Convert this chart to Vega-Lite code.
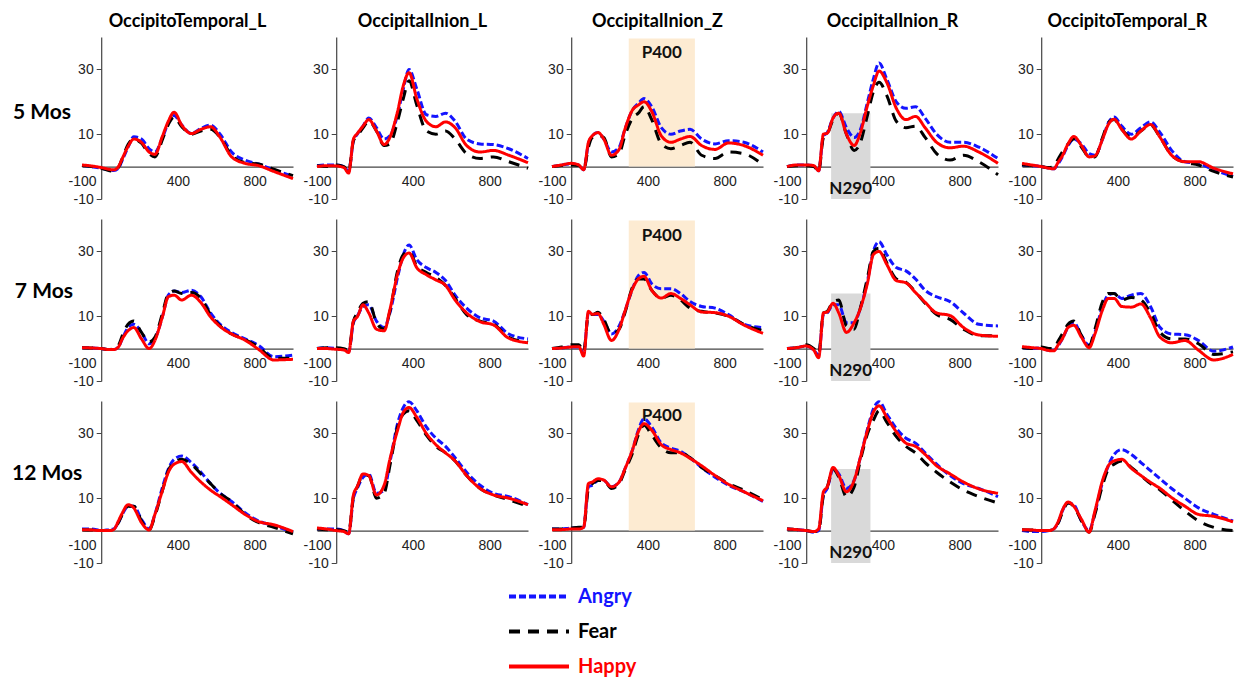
{
"$schema": "https://vega.github.io/schema/vega-lite/v6.json",
"background": "white",
"padding": {"left": 11, "top": 13, "right": 5, "bottom": 5},
"bounds": "flush",
"resolve": {"axis": {"x": "independent", "y": "independent"}},
"data": {"values": [
{"m":"5 Mos","c":"OccipitoTemporal_L","t":-100,"A":0.3,"F":0.3,"H":0.5},
{"m":"5 Mos","c":"OccipitoTemporal_L","t":-50,"A":0,"F":0,"H":0.2},
{"m":"5 Mos","c":"OccipitoTemporal_L","t":0,"A":-0.5,"F":-0.5,"H":-0.3},
{"m":"5 Mos","c":"OccipitoTemporal_L","t":40,"A":-1,"F":-1.2,"H":-0.8},
{"m":"5 Mos","c":"OccipitoTemporal_L","t":65,"A":-1.2,"F":-1.5,"H":-1},
{"m":"5 Mos","c":"OccipitoTemporal_L","t":90,"A":-0.5,"F":-0.3,"H":0},
{"m":"5 Mos","c":"OccipitoTemporal_L","t":110,"A":2,"F":2.5,"H":2.5},
{"m":"5 Mos","c":"OccipitoTemporal_L","t":140,"A":6,"F":6.8,"H":6.2},
{"m":"5 Mos","c":"OccipitoTemporal_L","t":170,"A":9.2,"F":8.5,"H":8.5},
{"m":"5 Mos","c":"OccipitoTemporal_L","t":210,"A":8.5,"F":7.2,"H":7.5},
{"m":"5 Mos","c":"OccipitoTemporal_L","t":250,"A":5.5,"F":4,"H":4.5},
{"m":"5 Mos","c":"OccipitoTemporal_L","t":280,"A":4.5,"F":3,"H":3.8},
{"m":"5 Mos","c":"OccipitoTemporal_L","t":320,"A":9,"F":8.5,"H":9.5},
{"m":"5 Mos","c":"OccipitoTemporal_L","t":350,"A":13.5,"F":13,"H":14},
{"m":"5 Mos","c":"OccipitoTemporal_L","t":380,"A":15.8,"F":15.3,"H":16.8},
{"m":"5 Mos","c":"OccipitoTemporal_L","t":420,"A":12.8,"F":12.3,"H":12.8},
{"m":"5 Mos","c":"OccipitoTemporal_L","t":470,"A":10.2,"F":10,"H":10.2},
{"m":"5 Mos","c":"OccipitoTemporal_L","t":520,"A":11.8,"F":11,"H":11.5},
{"m":"5 Mos","c":"OccipitoTemporal_L","t":570,"A":12.8,"F":11.5,"H":12.3},
{"m":"5 Mos","c":"OccipitoTemporal_L","t":620,"A":10,"F":9,"H":9},
{"m":"5 Mos","c":"OccipitoTemporal_L","t":680,"A":4.5,"F":3.5,"H":3},
{"m":"5 Mos","c":"OccipitoTemporal_L","t":750,"A":2,"F":1.2,"H":1},
{"m":"5 Mos","c":"OccipitoTemporal_L","t":820,"A":0.8,"F":0.8,"H":0.3},
{"m":"5 Mos","c":"OccipitoTemporal_L","t":900,"A":-1,"F":-0.8,"H":-1.5},
{"m":"5 Mos","c":"OccipitoTemporal_L","t":1000,"A":-3,"F":-2.8,"H":-3.7},

{"m":"5 Mos","c":"OccipitalInion_L","t":-100,"A":0.3,"F":0.3,"H":0},
{"m":"5 Mos","c":"OccipitalInion_L","t":-50,"A":0.5,"F":0,"H":0.3},
{"m":"5 Mos","c":"OccipitalInion_L","t":0,"A":0.5,"F":0.5,"H":0.2},
{"m":"5 Mos","c":"OccipitalInion_L","t":40,"A":0,"F":0,"H":-0.3},
{"m":"5 Mos","c":"OccipitalInion_L","t":65,"A":-1.5,"F":-1.5,"H":-2},
{"m":"5 Mos","c":"OccipitalInion_L","t":90,"A":8,"F":8,"H":8.5},
{"m":"5 Mos","c":"OccipitalInion_L","t":110,"A":10,"F":9.5,"H":10.2},
{"m":"5 Mos","c":"OccipitalInion_L","t":140,"A":12.5,"F":12,"H":12.5},
{"m":"5 Mos","c":"OccipitalInion_L","t":170,"A":15,"F":14,"H":14.5},
{"m":"5 Mos","c":"OccipitalInion_L","t":210,"A":12,"F":11,"H":11},
{"m":"5 Mos","c":"OccipitalInion_L","t":250,"A":8.5,"F":6.5,"H":6.8},
{"m":"5 Mos","c":"OccipitalInion_L","t":280,"A":9.5,"F":7,"H":9},
{"m":"5 Mos","c":"OccipitalInion_L","t":320,"A":16,"F":14,"H":17},
{"m":"5 Mos","c":"OccipitalInion_L","t":350,"A":24,"F":21,"H":25},
{"m":"5 Mos","c":"OccipitalInion_L","t":380,"A":30,"F":26.5,"H":29},
{"m":"5 Mos","c":"OccipitalInion_L","t":420,"A":24,"F":19,"H":21},
{"m":"5 Mos","c":"OccipitalInion_L","t":470,"A":16,"F":11,"H":14},
{"m":"5 Mos","c":"OccipitalInion_L","t":520,"A":15.5,"F":10,"H":12.3},
{"m":"5 Mos","c":"OccipitalInion_L","t":570,"A":16.5,"F":11,"H":13.8},
{"m":"5 Mos","c":"OccipitalInion_L","t":620,"A":14,"F":8.5,"H":12},
{"m":"5 Mos","c":"OccipitalInion_L","t":680,"A":8.5,"F":4,"H":6.5},
{"m":"5 Mos","c":"OccipitalInion_L","t":750,"A":7,"F":2.5,"H":4.5},
{"m":"5 Mos","c":"OccipitalInion_L","t":820,"A":6.8,"F":3,"H":5},
{"m":"5 Mos","c":"OccipitalInion_L","t":900,"A":5.5,"F":1.5,"H":3.5},
{"m":"5 Mos","c":"OccipitalInion_L","t":1000,"A":2.5,"F":-0.5,"H":1.2},

{"m":"5 Mos","c":"OccipitalInion_Z","t":-100,"A":0,"F":0,"H":0},
{"m":"5 Mos","c":"OccipitalInion_Z","t":-50,"A":0.5,"F":0.3,"H":0.5},
{"m":"5 Mos","c":"OccipitalInion_Z","t":0,"A":0.8,"F":0.5,"H":1},
{"m":"5 Mos","c":"OccipitalInion_Z","t":40,"A":0.5,"F":0.3,"H":0.5},
{"m":"5 Mos","c":"OccipitalInion_Z","t":65,"A":-1,"F":-1,"H":-1},
{"m":"5 Mos","c":"OccipitalInion_Z","t":90,"A":7,"F":6,"H":7.5},
{"m":"5 Mos","c":"OccipitalInion_Z","t":110,"A":9.5,"F":9,"H":9.5},
{"m":"5 Mos","c":"OccipitalInion_Z","t":140,"A":10.5,"F":9.5,"H":10.5},
{"m":"5 Mos","c":"OccipitalInion_Z","t":170,"A":8.5,"F":9,"H":8.5},
{"m":"5 Mos","c":"OccipitalInion_Z","t":210,"A":4.5,"F":3,"H":3.5},
{"m":"5 Mos","c":"OccipitalInion_Z","t":250,"A":6,"F":4,"H":5.3},
{"m":"5 Mos","c":"OccipitalInion_Z","t":280,"A":11.5,"F":9.5,"H":11.5},
{"m":"5 Mos","c":"OccipitalInion_Z","t":320,"A":17.5,"F":15,"H":17.5},
{"m":"5 Mos","c":"OccipitalInion_Z","t":350,"A":19.5,"F":16.5,"H":19},
{"m":"5 Mos","c":"OccipitalInion_Z","t":380,"A":21,"F":18.5,"H":20},
{"m":"5 Mos","c":"OccipitalInion_Z","t":420,"A":18.5,"F":14.5,"H":17},
{"m":"5 Mos","c":"OccipitalInion_Z","t":470,"A":12,"F":7,"H":9.5},
{"m":"5 Mos","c":"OccipitalInion_Z","t":520,"A":10,"F":5.5,"H":7.5},
{"m":"5 Mos","c":"OccipitalInion_Z","t":570,"A":11,"F":6.5,"H":8.5},
{"m":"5 Mos","c":"OccipitalInion_Z","t":620,"A":11.5,"F":7.5,"H":9.3},
{"m":"5 Mos","c":"OccipitalInion_Z","t":680,"A":8.5,"F":3.5,"H":6.5},
{"m":"5 Mos","c":"OccipitalInion_Z","t":750,"A":7,"F":2.5,"H":5.3},
{"m":"5 Mos","c":"OccipitalInion_Z","t":820,"A":8,"F":4.5,"H":7.3},
{"m":"5 Mos","c":"OccipitalInion_Z","t":900,"A":7.5,"F":4,"H":6.5},
{"m":"5 Mos","c":"OccipitalInion_Z","t":1000,"A":4.5,"F":0.5,"H":3.5},

{"m":"5 Mos","c":"OccipitalInion_R","t":-100,"A":0,"F":0,"H":0},
{"m":"5 Mos","c":"OccipitalInion_R","t":-50,"A":0.5,"F":0.3,"H":0.5},
{"m":"5 Mos","c":"OccipitalInion_R","t":0,"A":0.5,"F":0.3,"H":0.5},
{"m":"5 Mos","c":"OccipitalInion_R","t":40,"A":0.3,"F":0,"H":0.3},
{"m":"5 Mos","c":"OccipitalInion_R","t":65,"A":-1.3,"F":-1.5,"H":-1.3},
{"m":"5 Mos","c":"OccipitalInion_R","t":90,"A":9.5,"F":9,"H":10},
{"m":"5 Mos","c":"OccipitalInion_R","t":110,"A":10.5,"F":10,"H":10.3},
{"m":"5 Mos","c":"OccipitalInion_R","t":140,"A":15,"F":14.5,"H":15},
{"m":"5 Mos","c":"OccipitalInion_R","t":170,"A":17,"F":16.5,"H":16.5},
{"m":"5 Mos","c":"OccipitalInion_R","t":210,"A":12,"F":10,"H":10},
{"m":"5 Mos","c":"OccipitalInion_R","t":250,"A":9,"F":5,"H":6.5},
{"m":"5 Mos","c":"OccipitalInion_R","t":280,"A":11,"F":7,"H":10},
{"m":"5 Mos","c":"OccipitalInion_R","t":320,"A":20,"F":16,"H":19},
{"m":"5 Mos","c":"OccipitalInion_R","t":350,"A":27,"F":23,"H":25},
{"m":"5 Mos","c":"OccipitalInion_R","t":380,"A":32,"F":26,"H":29.5},
{"m":"5 Mos","c":"OccipitalInion_R","t":420,"A":27,"F":22,"H":26},
{"m":"5 Mos","c":"OccipitalInion_R","t":470,"A":20,"F":14,"H":18},
{"m":"5 Mos","c":"OccipitalInion_R","t":520,"A":18,"F":12,"H":14.5},
{"m":"5 Mos","c":"OccipitalInion_R","t":570,"A":18.5,"F":12.5,"H":15.5},
{"m":"5 Mos","c":"OccipitalInion_R","t":620,"A":15,"F":9,"H":12},
{"m":"5 Mos","c":"OccipitalInion_R","t":680,"A":10,"F":4,"H":7.5},
{"m":"5 Mos","c":"OccipitalInion_R","t":750,"A":7.5,"F":2,"H":5.8},
{"m":"5 Mos","c":"OccipitalInion_R","t":820,"A":7.5,"F":3.5,"H":6.3},
{"m":"5 Mos","c":"OccipitalInion_R","t":900,"A":6,"F":1.5,"H":4.5},
{"m":"5 Mos","c":"OccipitalInion_R","t":1000,"A":2.5,"F":-2.5,"H":1},

{"m":"5 Mos","c":"OccipitoTemporal_R","t":-100,"A":0.5,"F":0.5,"H":1},
{"m":"5 Mos","c":"OccipitoTemporal_R","t":-50,"A":0.3,"F":0.3,"H":0.5},
{"m":"5 Mos","c":"OccipitoTemporal_R","t":0,"A":0,"F":0,"H":0},
{"m":"5 Mos","c":"OccipitoTemporal_R","t":40,"A":-0.5,"F":-0.3,"H":-0.5},
{"m":"5 Mos","c":"OccipitoTemporal_R","t":65,"A":-0.7,"F":0,"H":-0.7},
{"m":"5 Mos","c":"OccipitoTemporal_R","t":90,"A":1,"F":2.5,"H":1.5},
{"m":"5 Mos","c":"OccipitoTemporal_R","t":110,"A":3,"F":4.5,"H":3.3},
{"m":"5 Mos","c":"OccipitoTemporal_R","t":140,"A":6.5,"F":7,"H":7},
{"m":"5 Mos","c":"OccipitoTemporal_R","t":170,"A":8.5,"F":8.5,"H":9.3},
{"m":"5 Mos","c":"OccipitoTemporal_R","t":210,"A":7,"F":6,"H":6.5},
{"m":"5 Mos","c":"OccipitoTemporal_R","t":250,"A":4,"F":3,"H":3},
{"m":"5 Mos","c":"OccipitoTemporal_R","t":280,"A":3.5,"F":3,"H":3.3},
{"m":"5 Mos","c":"OccipitoTemporal_R","t":320,"A":8.5,"F":9,"H":8.5},
{"m":"5 Mos","c":"OccipitoTemporal_R","t":350,"A":13.5,"F":13.5,"H":13},
{"m":"5 Mos","c":"OccipitoTemporal_R","t":380,"A":15.3,"F":14.5,"H":14.6},
{"m":"5 Mos","c":"OccipitoTemporal_R","t":420,"A":12.5,"F":11.5,"H":11.5},
{"m":"5 Mos","c":"OccipitoTemporal_R","t":470,"A":10,"F":9,"H":8.5},
{"m":"5 Mos","c":"OccipitoTemporal_R","t":520,"A":12,"F":11,"H":11},
{"m":"5 Mos","c":"OccipitoTemporal_R","t":570,"A":13.8,"F":12.8,"H":13},
{"m":"5 Mos","c":"OccipitoTemporal_R","t":620,"A":10.5,"F":9,"H":9},
{"m":"5 Mos","c":"OccipitoTemporal_R","t":680,"A":5,"F":3.5,"H":3.5},
{"m":"5 Mos","c":"OccipitoTemporal_R","t":750,"A":1.5,"F":1.3,"H":1.5},
{"m":"5 Mos","c":"OccipitoTemporal_R","t":820,"A":1,"F":0.5,"H":1.5},
{"m":"5 Mos","c":"OccipitoTemporal_R","t":900,"A":-1,"F":-1.5,"H":-0.5},
{"m":"5 Mos","c":"OccipitoTemporal_R","t":1000,"A":-3,"F":-3.2,"H":-2.2},

{"m":"7 Mos","c":"OccipitoTemporal_L","t":-100,"A":0.3,"F":0.3,"H":0.3},
{"m":"7 Mos","c":"OccipitoTemporal_L","t":-50,"A":0.2,"F":0.2,"H":0.2},
{"m":"7 Mos","c":"OccipitoTemporal_L","t":0,"A":0,"F":0,"H":0},
{"m":"7 Mos","c":"OccipitoTemporal_L","t":40,"A":-0.3,"F":-0.3,"H":-0.3},
{"m":"7 Mos","c":"OccipitoTemporal_L","t":65,"A":-0.3,"F":0,"H":-0.3},
{"m":"7 Mos","c":"OccipitoTemporal_L","t":90,"A":0.5,"F":1,"H":0.5},
{"m":"7 Mos","c":"OccipitoTemporal_L","t":110,"A":3,"F":4,"H":3},
{"m":"7 Mos","c":"OccipitoTemporal_L","t":140,"A":6.5,"F":7.5,"H":5.5},
{"m":"7 Mos","c":"OccipitoTemporal_L","t":170,"A":7.5,"F":8.5,"H":6.5},
{"m":"7 Mos","c":"OccipitoTemporal_L","t":210,"A":5,"F":5,"H":3},
{"m":"7 Mos","c":"OccipitoTemporal_L","t":250,"A":1.5,"F":2,"H":0},
{"m":"7 Mos","c":"OccipitoTemporal_L","t":280,"A":3,"F":3.5,"H":2.5},
{"m":"7 Mos","c":"OccipitoTemporal_L","t":320,"A":10,"F":11,"H":10},
{"m":"7 Mos","c":"OccipitoTemporal_L","t":350,"A":16.5,"F":17,"H":16},
{"m":"7 Mos","c":"OccipitoTemporal_L","t":380,"A":17.8,"F":17.8,"H":16.5},
{"m":"7 Mos","c":"OccipitoTemporal_L","t":420,"A":17.3,"F":17,"H":15},
{"m":"7 Mos","c":"OccipitoTemporal_L","t":470,"A":18,"F":17.3,"H":16.5},
{"m":"7 Mos","c":"OccipitoTemporal_L","t":520,"A":16,"F":15.5,"H":14.2},
{"m":"7 Mos","c":"OccipitoTemporal_L","t":570,"A":11,"F":10.5,"H":9.8},
{"m":"7 Mos","c":"OccipitoTemporal_L","t":620,"A":7.5,"F":7,"H":6.8},
{"m":"7 Mos","c":"OccipitoTemporal_L","t":680,"A":5,"F":4.5,"H":4.5},
{"m":"7 Mos","c":"OccipitoTemporal_L","t":750,"A":3,"F":2.8,"H":2.6},
{"m":"7 Mos","c":"OccipitoTemporal_L","t":820,"A":1,"F":0.5,"H":-0.2},
{"m":"7 Mos","c":"OccipitoTemporal_L","t":900,"A":-2.5,"F":-3,"H":-3.5},
{"m":"7 Mos","c":"OccipitoTemporal_L","t":1000,"A":-2,"F":-3,"H":-3.3},

{"m":"7 Mos","c":"OccipitalInion_L","t":-100,"A":0,"F":0,"H":0},
{"m":"7 Mos","c":"OccipitalInion_L","t":-50,"A":0.3,"F":0.3,"H":0},
{"m":"7 Mos","c":"OccipitalInion_L","t":0,"A":0,"F":0.3,"H":-0.2},
{"m":"7 Mos","c":"OccipitalInion_L","t":40,"A":-0.4,"F":0,"H":-0.4},
{"m":"7 Mos","c":"OccipitalInion_L","t":65,"A":-1,"F":-0.5,"H":-1.2},
{"m":"7 Mos","c":"OccipitalInion_L","t":90,"A":8,"F":8.5,"H":8.5},
{"m":"7 Mos","c":"OccipitalInion_L","t":110,"A":10,"F":11,"H":9.8},
{"m":"7 Mos","c":"OccipitalInion_L","t":140,"A":13,"F":14,"H":13.5},
{"m":"7 Mos","c":"OccipitalInion_L","t":170,"A":13.5,"F":14.5,"H":11},
{"m":"7 Mos","c":"OccipitalInion_L","t":210,"A":8.5,"F":8,"H":6},
{"m":"7 Mos","c":"OccipitalInion_L","t":250,"A":6.5,"F":6,"H":5.5},
{"m":"7 Mos","c":"OccipitalInion_L","t":280,"A":11,"F":11.5,"H":12},
{"m":"7 Mos","c":"OccipitalInion_L","t":320,"A":22,"F":24,"H":23},
{"m":"7 Mos","c":"OccipitalInion_L","t":350,"A":29,"F":29,"H":28},
{"m":"7 Mos","c":"OccipitalInion_L","t":380,"A":32,"F":30,"H":29.5},
{"m":"7 Mos","c":"OccipitalInion_L","t":420,"A":27.5,"F":25.5,"H":25},
{"m":"7 Mos","c":"OccipitalInion_L","t":470,"A":25,"F":23.5,"H":22.8},
{"m":"7 Mos","c":"OccipitalInion_L","t":520,"A":23.5,"F":22,"H":21.2},
{"m":"7 Mos","c":"OccipitalInion_L","t":570,"A":21,"F":19.5,"H":19.5},
{"m":"7 Mos","c":"OccipitalInion_L","t":620,"A":16.5,"F":15.5,"H":15},
{"m":"7 Mos","c":"OccipitalInion_L","t":680,"A":12.5,"F":10.5,"H":11},
{"m":"7 Mos","c":"OccipitalInion_L","t":750,"A":9.5,"F":8.5,"H":8.3},
{"m":"7 Mos","c":"OccipitalInion_L","t":820,"A":8.5,"F":7.5,"H":7.3},
{"m":"7 Mos","c":"OccipitalInion_L","t":900,"A":4.5,"F":3.5,"H":3.2},
{"m":"7 Mos","c":"OccipitalInion_L","t":1000,"A":3,"F":2,"H":1.8},

{"m":"7 Mos","c":"OccipitalInion_Z","t":-100,"A":0,"F":0,"H":0},
{"m":"7 Mos","c":"OccipitalInion_Z","t":-50,"A":0.2,"F":0.5,"H":0.2},
{"m":"7 Mos","c":"OccipitalInion_Z","t":0,"A":0.5,"F":1.2,"H":0.5},
{"m":"7 Mos","c":"OccipitalInion_Z","t":40,"A":0.5,"F":1.2,"H":0.6},
{"m":"7 Mos","c":"OccipitalInion_Z","t":65,"A":-1.5,"F":-1,"H":-2.3},
{"m":"7 Mos","c":"OccipitalInion_Z","t":90,"A":11,"F":10.5,"H":11.5},
{"m":"7 Mos","c":"OccipitalInion_Z","t":110,"A":10.5,"F":10.5,"H":10.6},
{"m":"7 Mos","c":"OccipitalInion_Z","t":140,"A":10.5,"F":11.2,"H":10.8},
{"m":"7 Mos","c":"OccipitalInion_Z","t":170,"A":8.5,"F":9,"H":7.5},
{"m":"7 Mos","c":"OccipitalInion_Z","t":210,"A":4.5,"F":4.5,"H":2.5},
{"m":"7 Mos","c":"OccipitalInion_Z","t":250,"A":7,"F":6,"H":6},
{"m":"7 Mos","c":"OccipitalInion_Z","t":280,"A":11.5,"F":11,"H":11.5},
{"m":"7 Mos","c":"OccipitalInion_Z","t":320,"A":18.5,"F":19,"H":18.5},
{"m":"7 Mos","c":"OccipitalInion_Z","t":350,"A":22.5,"F":21.5,"H":21.5},
{"m":"7 Mos","c":"OccipitalInion_Z","t":380,"A":23.5,"F":21.5,"H":22.3},
{"m":"7 Mos","c":"OccipitalInion_Z","t":420,"A":20,"F":18,"H":18},
{"m":"7 Mos","c":"OccipitalInion_Z","t":470,"A":18.5,"F":15.5,"H":15.6},
{"m":"7 Mos","c":"OccipitalInion_Z","t":520,"A":18.5,"F":16.5,"H":17},
{"m":"7 Mos","c":"OccipitalInion_Z","t":570,"A":17,"F":15,"H":15.5},
{"m":"7 Mos","c":"OccipitalInion_Z","t":620,"A":14.5,"F":12.5,"H":13.5},
{"m":"7 Mos","c":"OccipitalInion_Z","t":680,"A":13,"F":11.5,"H":11.3},
{"m":"7 Mos","c":"OccipitalInion_Z","t":750,"A":12.5,"F":11,"H":11.1},
{"m":"7 Mos","c":"OccipitalInion_Z","t":820,"A":10.5,"F":10,"H":10},
{"m":"7 Mos","c":"OccipitalInion_Z","t":900,"A":7.5,"F":7.5,"H":7.3},
{"m":"7 Mos","c":"OccipitalInion_Z","t":1000,"A":6.5,"F":5.5,"H":4.7},

{"m":"7 Mos","c":"OccipitalInion_R","t":-100,"A":0,"F":0,"H":0},
{"m":"7 Mos","c":"OccipitalInion_R","t":-50,"A":0.3,"F":0.3,"H":0.3},
{"m":"7 Mos","c":"OccipitalInion_R","t":0,"A":0.8,"F":1.2,"H":0.8},
{"m":"7 Mos","c":"OccipitalInion_R","t":40,"A":-0.5,"F":0,"H":-0.5},
{"m":"7 Mos","c":"OccipitalInion_R","t":65,"A":-2,"F":-1.5,"H":-2.8},
{"m":"7 Mos","c":"OccipitalInion_R","t":90,"A":10.5,"F":11,"H":11},
{"m":"7 Mos","c":"OccipitalInion_R","t":110,"A":11,"F":11.5,"H":11.3},
{"m":"7 Mos","c":"OccipitalInion_R","t":140,"A":13.5,"F":14.5,"H":14},
{"m":"7 Mos","c":"OccipitalInion_R","t":170,"A":13.5,"F":15,"H":11},
{"m":"7 Mos","c":"OccipitalInion_R","t":210,"A":8,"F":7,"H":5},
{"m":"7 Mos","c":"OccipitalInion_R","t":250,"A":8,"F":6,"H":8},
{"m":"7 Mos","c":"OccipitalInion_R","t":280,"A":12,"F":12,"H":12},
{"m":"7 Mos","c":"OccipitalInion_R","t":320,"A":21,"F":22,"H":20.4},
{"m":"7 Mos","c":"OccipitalInion_R","t":350,"A":30,"F":30,"H":29},
{"m":"7 Mos","c":"OccipitalInion_R","t":380,"A":33,"F":31,"H":30},
{"m":"7 Mos","c":"OccipitalInion_R","t":420,"A":29,"F":26.5,"H":26},
{"m":"7 Mos","c":"OccipitalInion_R","t":470,"A":25,"F":21.5,"H":21},
{"m":"7 Mos","c":"OccipitalInion_R","t":520,"A":24,"F":20.5,"H":20.3},
{"m":"7 Mos","c":"OccipitalInion_R","t":570,"A":21.5,"F":17.5,"H":17.3},
{"m":"7 Mos","c":"OccipitalInion_R","t":620,"A":18,"F":14,"H":14.3},
{"m":"7 Mos","c":"OccipitalInion_R","t":680,"A":16,"F":10.5,"H":11},
{"m":"7 Mos","c":"OccipitalInion_R","t":750,"A":14.5,"F":9,"H":10.2},
{"m":"7 Mos","c":"OccipitalInion_R","t":820,"A":11,"F":6,"H":6.5},
{"m":"7 Mos","c":"OccipitalInion_R","t":900,"A":7.5,"F":4,"H":4.2},
{"m":"7 Mos","c":"OccipitalInion_R","t":1000,"A":7,"F":4,"H":3.8},

{"m":"7 Mos","c":"OccipitoTemporal_R","t":-100,"A":0.3,"F":0.3,"H":0.6},
{"m":"7 Mos","c":"OccipitoTemporal_R","t":-50,"A":0,"F":0,"H":0.3},
{"m":"7 Mos","c":"OccipitoTemporal_R","t":0,"A":0.2,"F":0.5,"H":0},
{"m":"7 Mos","c":"OccipitoTemporal_R","t":40,"A":-0.5,"F":0,"H":-0.6},
{"m":"7 Mos","c":"OccipitoTemporal_R","t":65,"A":-0.5,"F":0,"H":-0.7},
{"m":"7 Mos","c":"OccipitoTemporal_R","t":90,"A":1,"F":2.5,"H":1.3},
{"m":"7 Mos","c":"OccipitoTemporal_R","t":110,"A":3,"F":4.5,"H":3},
{"m":"7 Mos","c":"OccipitoTemporal_R","t":140,"A":6.5,"F":7.5,"H":6.5},
{"m":"7 Mos","c":"OccipitoTemporal_R","t":170,"A":8,"F":8.5,"H":7.2},
{"m":"7 Mos","c":"OccipitoTemporal_R","t":210,"A":4,"F":4,"H":3.5},
{"m":"7 Mos","c":"OccipitoTemporal_R","t":250,"A":1,"F":1,"H":0.3},
{"m":"7 Mos","c":"OccipitoTemporal_R","t":280,"A":5,"F":6,"H":4.5},
{"m":"7 Mos","c":"OccipitoTemporal_R","t":320,"A":13,"F":14.5,"H":12},
{"m":"7 Mos","c":"OccipitoTemporal_R","t":350,"A":16.5,"F":17,"H":15.5},
{"m":"7 Mos","c":"OccipitoTemporal_R","t":380,"A":17,"F":17,"H":15.5},
{"m":"7 Mos","c":"OccipitoTemporal_R","t":420,"A":15.5,"F":15,"H":13},
{"m":"7 Mos","c":"OccipitoTemporal_R","t":470,"A":16.5,"F":15.8,"H":12.8},
{"m":"7 Mos","c":"OccipitoTemporal_R","t":520,"A":17,"F":15,"H":13.8},
{"m":"7 Mos","c":"OccipitoTemporal_R","t":570,"A":13,"F":11,"H":9.5},
{"m":"7 Mos","c":"OccipitoTemporal_R","t":620,"A":6.5,"F":5,"H":3.5},
{"m":"7 Mos","c":"OccipitoTemporal_R","t":680,"A":4.5,"F":3,"H":1.8},
{"m":"7 Mos","c":"OccipitoTemporal_R","t":750,"A":4.3,"F":3,"H":2.5},
{"m":"7 Mos","c":"OccipitoTemporal_R","t":820,"A":2.5,"F":1.5,"H":-0.5},
{"m":"7 Mos","c":"OccipitoTemporal_R","t":900,"A":-0.8,"F":-1.8,"H":-3.5},
{"m":"7 Mos","c":"OccipitoTemporal_R","t":1000,"A":0.5,"F":-1,"H":-1.8},

{"m":"12 Mos","c":"OccipitoTemporal_L","t":-100,"A":0.5,"F":0.3,"H":0.3},
{"m":"12 Mos","c":"OccipitoTemporal_L","t":-50,"A":0.5,"F":0.2,"H":0.2},
{"m":"12 Mos","c":"OccipitoTemporal_L","t":0,"A":0,"F":0,"H":0},
{"m":"12 Mos","c":"OccipitoTemporal_L","t":40,"A":0.3,"F":0,"H":0},
{"m":"12 Mos","c":"OccipitoTemporal_L","t":65,"A":0.5,"F":0.3,"H":0.3},
{"m":"12 Mos","c":"OccipitoTemporal_L","t":90,"A":2.5,"F":2.5,"H":3},
{"m":"12 Mos","c":"OccipitoTemporal_L","t":110,"A":5,"F":5,"H":5.4},
{"m":"12 Mos","c":"OccipitoTemporal_L","t":140,"A":7.5,"F":7.5,"H":8},
{"m":"12 Mos","c":"OccipitoTemporal_L","t":170,"A":7.5,"F":7.5,"H":7},
{"m":"12 Mos","c":"OccipitoTemporal_L","t":210,"A":3.5,"F":3,"H":2.5},
{"m":"12 Mos","c":"OccipitoTemporal_L","t":250,"A":0.5,"F":0.2,"H":0.2},
{"m":"12 Mos","c":"OccipitoTemporal_L","t":280,"A":5,"F":4.5,"H":5},
{"m":"12 Mos","c":"OccipitoTemporal_L","t":320,"A":13.5,"F":12.5,"H":12.5},
{"m":"12 Mos","c":"OccipitoTemporal_L","t":350,"A":19,"F":18.5,"H":18},
{"m":"12 Mos","c":"OccipitoTemporal_L","t":380,"A":22,"F":21,"H":20.5},
{"m":"12 Mos","c":"OccipitoTemporal_L","t":420,"A":23,"F":22,"H":21.3},
{"m":"12 Mos","c":"OccipitoTemporal_L","t":470,"A":21,"F":20.5,"H":18},
{"m":"12 Mos","c":"OccipitoTemporal_L","t":520,"A":18,"F":17.5,"H":15},
{"m":"12 Mos","c":"OccipitoTemporal_L","t":570,"A":14.5,"F":14.5,"H":12.5},
{"m":"12 Mos","c":"OccipitoTemporal_L","t":620,"A":11.5,"F":11.5,"H":10.5},
{"m":"12 Mos","c":"OccipitoTemporal_L","t":680,"A":9,"F":9,"H":8},
{"m":"12 Mos","c":"OccipitoTemporal_L","t":750,"A":5.5,"F":5,"H":5},
{"m":"12 Mos","c":"OccipitoTemporal_L","t":820,"A":3,"F":2.5,"H":2.8},
{"m":"12 Mos","c":"OccipitoTemporal_L","t":900,"A":1.5,"F":1,"H":1.8},
{"m":"12 Mos","c":"OccipitoTemporal_L","t":1000,"A":-0.5,"F":-1,"H":-0.3},

{"m":"12 Mos","c":"OccipitalInion_L","t":-100,"A":0.5,"F":0.5,"H":0.8},
{"m":"12 Mos","c":"OccipitalInion_L","t":-50,"A":0.5,"F":0.3,"H":0.5},
{"m":"12 Mos","c":"OccipitalInion_L","t":0,"A":0.5,"F":0.3,"H":0},
{"m":"12 Mos","c":"OccipitalInion_L","t":40,"A":0,"F":0,"H":-0.3},
{"m":"12 Mos","c":"OccipitalInion_L","t":65,"A":-1,"F":-0.5,"H":-1},
{"m":"12 Mos","c":"OccipitalInion_L","t":90,"A":10,"F":10.5,"H":11},
{"m":"12 Mos","c":"OccipitalInion_L","t":110,"A":13,"F":13.5,"H":13.6},
{"m":"12 Mos","c":"OccipitalInion_L","t":140,"A":16.5,"F":17,"H":17.5},
{"m":"12 Mos","c":"OccipitalInion_L","t":170,"A":17.5,"F":17,"H":17},
{"m":"12 Mos","c":"OccipitalInion_L","t":210,"A":11.5,"F":10,"H":11},
{"m":"12 Mos","c":"OccipitalInion_L","t":250,"A":12.5,"F":11.5,"H":14},
{"m":"12 Mos","c":"OccipitalInion_L","t":280,"A":21,"F":20,"H":22},
{"m":"12 Mos","c":"OccipitalInion_L","t":320,"A":33,"F":32,"H":31},
{"m":"12 Mos","c":"OccipitalInion_L","t":350,"A":38,"F":36,"H":36.5},
{"m":"12 Mos","c":"OccipitalInion_L","t":380,"A":39.8,"F":37,"H":38},
{"m":"12 Mos","c":"OccipitalInion_L","t":420,"A":37,"F":34,"H":35},
{"m":"12 Mos","c":"OccipitalInion_L","t":470,"A":32,"F":29.5,"H":30},
{"m":"12 Mos","c":"OccipitalInion_L","t":520,"A":28.5,"F":26,"H":26.5},
{"m":"12 Mos","c":"OccipitalInion_L","t":570,"A":26,"F":24,"H":24},
{"m":"12 Mos","c":"OccipitalInion_L","t":620,"A":22.5,"F":21.5,"H":21.5},
{"m":"12 Mos","c":"OccipitalInion_L","t":680,"A":18,"F":17,"H":17},
{"m":"12 Mos","c":"OccipitalInion_L","t":750,"A":14,"F":13,"H":13},
{"m":"12 Mos","c":"OccipitalInion_L","t":820,"A":11.5,"F":11,"H":11},
{"m":"12 Mos","c":"OccipitalInion_L","t":900,"A":10.5,"F":9.5,"H":10},
{"m":"12 Mos","c":"OccipitalInion_L","t":1000,"A":8,"F":7.5,"H":8},

{"m":"12 Mos","c":"OccipitalInion_Z","t":-100,"A":0.5,"F":0.5,"H":0.3},
{"m":"12 Mos","c":"OccipitalInion_Z","t":-50,"A":0.5,"F":0.5,"H":0.3},
{"m":"12 Mos","c":"OccipitalInion_Z","t":0,"A":0.8,"F":0.8,"H":0.5},
{"m":"12 Mos","c":"OccipitalInion_Z","t":40,"A":0.8,"F":1,"H":0.5},
{"m":"12 Mos","c":"OccipitalInion_Z","t":65,"A":1,"F":1,"H":1},
{"m":"12 Mos","c":"OccipitalInion_Z","t":90,"A":13.5,"F":13,"H":14.5},
{"m":"12 Mos","c":"OccipitalInion_Z","t":110,"A":14,"F":14.5,"H":15},
{"m":"12 Mos","c":"OccipitalInion_Z","t":140,"A":15.5,"F":15.5,"H":16},
{"m":"12 Mos","c":"OccipitalInion_Z","t":170,"A":15.5,"F":15.5,"H":15.6},
{"m":"12 Mos","c":"OccipitalInion_Z","t":210,"A":13.5,"F":13,"H":13.5},
{"m":"12 Mos","c":"OccipitalInion_Z","t":250,"A":15,"F":14.5,"H":15},
{"m":"12 Mos","c":"OccipitalInion_Z","t":280,"A":19,"F":18.5,"H":19},
{"m":"12 Mos","c":"OccipitalInion_Z","t":320,"A":25,"F":24,"H":25},
{"m":"12 Mos","c":"OccipitalInion_Z","t":350,"A":31,"F":29.5,"H":30.5},
{"m":"12 Mos","c":"OccipitalInion_Z","t":380,"A":34.5,"F":32.5,"H":33},
{"m":"12 Mos","c":"OccipitalInion_Z","t":420,"A":32,"F":29.5,"H":31},
{"m":"12 Mos","c":"OccipitalInion_Z","t":470,"A":27,"F":25.5,"H":26.5},
{"m":"12 Mos","c":"OccipitalInion_Z","t":520,"A":25.5,"F":24,"H":25},
{"m":"12 Mos","c":"OccipitalInion_Z","t":570,"A":24.5,"F":24,"H":24},
{"m":"12 Mos","c":"OccipitalInion_Z","t":620,"A":22.5,"F":22.5,"H":22.3},
{"m":"12 Mos","c":"OccipitalInion_Z","t":680,"A":19.5,"F":19.5,"H":20},
{"m":"12 Mos","c":"OccipitalInion_Z","t":750,"A":16.5,"F":17,"H":17},
{"m":"12 Mos","c":"OccipitalInion_Z","t":820,"A":14,"F":14.5,"H":14.3},
{"m":"12 Mos","c":"OccipitalInion_Z","t":900,"A":12,"F":12.5,"H":12},
{"m":"12 Mos","c":"OccipitalInion_Z","t":1000,"A":9,"F":9.5,"H":9.2},

{"m":"12 Mos","c":"OccipitalInion_R","t":-100,"A":0.5,"F":0.5,"H":0.5},
{"m":"12 Mos","c":"OccipitalInion_R","t":-50,"A":0.3,"F":0.3,"H":0.3},
{"m":"12 Mos","c":"OccipitalInion_R","t":0,"A":0,"F":0,"H":0},
{"m":"12 Mos","c":"OccipitalInion_R","t":40,"A":-0.5,"F":-0.3,"H":-0.3},
{"m":"12 Mos","c":"OccipitalInion_R","t":65,"A":0,"F":0,"H":0.5},
{"m":"12 Mos","c":"OccipitalInion_R","t":90,"A":11,"F":11,"H":12},
{"m":"12 Mos","c":"OccipitalInion_R","t":110,"A":13,"F":13.5,"H":13.5},
{"m":"12 Mos","c":"OccipitalInion_R","t":140,"A":19,"F":19,"H":19.5},
{"m":"12 Mos","c":"OccipitalInion_R","t":170,"A":17.5,"F":16.5,"H":17},
{"m":"12 Mos","c":"OccipitalInion_R","t":210,"A":13,"F":10.5,"H":12},
{"m":"12 Mos","c":"OccipitalInion_R","t":250,"A":15.5,"F":13.5,"H":15.5},
{"m":"12 Mos","c":"OccipitalInion_R","t":280,"A":22,"F":21,"H":22},
{"m":"12 Mos","c":"OccipitalInion_R","t":320,"A":31.5,"F":30,"H":31},
{"m":"12 Mos","c":"OccipitalInion_R","t":350,"A":37.5,"F":34,"H":36.5},
{"m":"12 Mos","c":"OccipitalInion_R","t":380,"A":39.8,"F":37,"H":38.5},
{"m":"12 Mos","c":"OccipitalInion_R","t":420,"A":36,"F":33.5,"H":35},
{"m":"12 Mos","c":"OccipitalInion_R","t":470,"A":31.5,"F":29,"H":30.5},
{"m":"12 Mos","c":"OccipitalInion_R","t":520,"A":28.5,"F":26,"H":27},
{"m":"12 Mos","c":"OccipitalInion_R","t":570,"A":27,"F":24,"H":26},
{"m":"12 Mos","c":"OccipitalInion_R","t":620,"A":24,"F":21,"H":23.5},
{"m":"12 Mos","c":"OccipitalInion_R","t":680,"A":20.5,"F":18,"H":20},
{"m":"12 Mos","c":"OccipitalInion_R","t":750,"A":17,"F":15,"H":17.5},
{"m":"12 Mos","c":"OccipitalInion_R","t":820,"A":14.5,"F":12.5,"H":15},
{"m":"12 Mos","c":"OccipitalInion_R","t":900,"A":13,"F":10.5,"H":12.9},
{"m":"12 Mos","c":"OccipitalInion_R","t":1000,"A":10.5,"F":8.5,"H":11.5},

{"m":"12 Mos","c":"OccipitoTemporal_R","t":-100,"A":0,"F":0.3,"H":0.3},
{"m":"12 Mos","c":"OccipitoTemporal_R","t":-50,"A":-0.3,"F":0.2,"H":0.2},
{"m":"12 Mos","c":"OccipitoTemporal_R","t":0,"A":-0.3,"F":0,"H":0},
{"m":"12 Mos","c":"OccipitoTemporal_R","t":40,"A":0,"F":0,"H":0},
{"m":"12 Mos","c":"OccipitoTemporal_R","t":65,"A":0.5,"F":0.5,"H":0.5},
{"m":"12 Mos","c":"OccipitoTemporal_R","t":90,"A":2.5,"F":2.5,"H":3},
{"m":"12 Mos","c":"OccipitoTemporal_R","t":110,"A":6,"F":5.5,"H":6.2},
{"m":"12 Mos","c":"OccipitoTemporal_R","t":140,"A":8.5,"F":8.5,"H":8.8},
{"m":"12 Mos","c":"OccipitoTemporal_R","t":170,"A":8,"F":7.5,"H":7.5},
{"m":"12 Mos","c":"OccipitoTemporal_R","t":210,"A":3,"F":3,"H":3.5},
{"m":"12 Mos","c":"OccipitoTemporal_R","t":250,"A":0,"F":-0.5,"H":-0.5},
{"m":"12 Mos","c":"OccipitoTemporal_R","t":280,"A":5.5,"F":5,"H":6},
{"m":"12 Mos","c":"OccipitoTemporal_R","t":320,"A":15,"F":14,"H":15.5},
{"m":"12 Mos","c":"OccipitoTemporal_R","t":350,"A":20,"F":19,"H":20},
{"m":"12 Mos","c":"OccipitoTemporal_R","t":380,"A":23.5,"F":20.5,"H":21.5},
{"m":"12 Mos","c":"OccipitoTemporal_R","t":420,"A":25,"F":21.5,"H":22},
{"m":"12 Mos","c":"OccipitoTemporal_R","t":470,"A":23.5,"F":19.5,"H":19.2},
{"m":"12 Mos","c":"OccipitoTemporal_R","t":520,"A":21,"F":17,"H":17},
{"m":"12 Mos","c":"OccipitoTemporal_R","t":570,"A":18.5,"F":14.5,"H":14.9},
{"m":"12 Mos","c":"OccipitoTemporal_R","t":620,"A":16,"F":12.5,"H":13},
{"m":"12 Mos","c":"OccipitoTemporal_R","t":680,"A":13,"F":9.5,"H":10.2},
{"m":"12 Mos","c":"OccipitoTemporal_R","t":750,"A":10,"F":6,"H":7.5},
{"m":"12 Mos","c":"OccipitoTemporal_R","t":820,"A":7,"F":3,"H":5},
{"m":"12 Mos","c":"OccipitoTemporal_R","t":900,"A":5,"F":1,"H":4.4},
{"m":"12 Mos","c":"OccipitoTemporal_R","t":1000,"A":3,"F":0,"H":2.7},

{"kind":"box","m":"5 Mos","c":"OccipitalInion_Z","label":"P400","t":300,"t2":645,"v":0,"v2":39.5},
{"kind":"box","m":"7 Mos","c":"OccipitalInion_Z","label":"P400","t":300,"t2":645,"v":0,"v2":39.5},
{"kind":"box","m":"12 Mos","c":"OccipitalInion_Z","label":"P400","t":300,"t2":645,"v":0,"v2":39.5},
{"kind":"box","m":"5 Mos","c":"OccipitalInion_R","label":"N290","t":130,"t2":335,"v":-10,"v2":16.5},
{"kind":"box","m":"7 Mos","c":"OccipitalInion_R","label":"N290","t":130,"t2":335,"v":-10,"v2":17},
{"kind":"box","m":"12 Mos","c":"OccipitalInion_R","label":"N290","t":130,"t2":335,"v":-10,"v2":19},
{"kind":"label","m":"5 Mos","c":"OccipitalInion_Z","label":"P400","t":472,"v":35},
{"kind":"label","m":"7 Mos","c":"OccipitalInion_Z","label":"P400","t":472,"v":34.8},
{"kind":"label","m":"12 Mos","c":"OccipitalInion_Z","label":"P400","t":472,"v":35.3},
{"kind":"label","m":"5 Mos","c":"OccipitalInion_R","label":"N290","t":232,"v":-7},
{"kind":"label","m":"7 Mos","c":"OccipitalInion_R","label":"N290","t":232,"v":-7},
{"kind":"label","m":"12 Mos","c":"OccipitalInion_R","label":"N290","t":232,"v":-7},
{"kind":"rowlabel","m":"5 Mos","c":"OccipitoTemporal_L","label":"5 Mos","t":-460,"v":16.5},
{"kind":"rowlabel","m":"7 Mos","c":"OccipitoTemporal_L","label":"7 Mos","t":-450,"v":17.5},
{"kind":"rowlabel","m":"12 Mos","c":"OccipitoTemporal_L","label":"12 Mos","t":-465,"v":17.5}
]},
"facet": {
  "row": {"field": "m", "type": "nominal", "sort": ["5 Mos", "7 Mos", "12 Mos"], "header": {"title": null, "labels": false}},
  "column": {"field": "c", "type": "nominal", "sort": ["OccipitoTemporal_L", "OccipitalInion_L", "OccipitalInion_Z", "OccipitalInion_R", "OccipitoTemporal_R"],
    "header": {"title": null, "labelFont": "Lato", "labelFontSize": 18, "labelFontWeight": "bold", "labelColor": "#000000", "labelPadding": 6}}
},
"spacing": {"row": 20, "column": 24},
"spec": {
  "width": 211,
  "height": 162,
  "encoding": {
    "x": {"field": "t", "type": "quantitative", "scale": {"domain": [-100, 1000], "nice": false, "zero": false},
      "axis": {"title": null, "values": [-100, 400, 800], "offset": -32.4, "ticks": false, "grid": false, "domainColor": "#444444", "domainWidth": 1.2, "labelFont": "Liberation Sans", "labelFontSize": 14, "labelColor": "#222222", "labelPadding": 8, "labelFlush": false, "labelOverlap": false, "labelExpr": "'' + datum.value"}},
    "y": {"field": "v", "type": "quantitative", "scale": {"domain": [-10, 40], "nice": false, "zero": false},
      "axis": {"title": null, "values": [-10, 10, 30], "offset": -19.2, "tickSize": 5, "tickColor": "#444444", "grid": false, "domainColor": "#444444", "domainWidth": 1.2, "labelFont": "Liberation Sans", "labelFontSize": 14, "labelColor": "#222222", "labelPadding": 3, "labelExpr": "'' + datum.value"}}
  },
  "layer": [
    {"transform": [{"filter": "datum.kind === 'box'"}],
     "mark": {"type": "rect"},
     "encoding": {"x2": {"field": "t2"}, "y2": {"field": "v2"},
       "fill": {"field": "label", "type": "nominal", "scale": {"domain": ["P400", "N290"], "range": ["#fdebd2", "#d9d9d9"]}, "legend": null}}},
    {"transform": [{"filter": "datum.kind === 'label'"}],
     "mark": {"type": "text", "font": "Lato", "fontSize": 17, "fontWeight": "bold", "color": "#111111", "baseline": "middle"},
     "encoding": {"text": {"field": "label"}}},
    {"transform": [{"filter": "datum.kind === 'rowlabel'"}],
     "mark": {"type": "text", "font": "Lato", "fontSize": 21, "fontWeight": "bold", "color": "#000000", "baseline": "middle", "align": "left"},
     "encoding": {"text": {"field": "label"}}},
    {"transform": [{"filter": "isValid(datum.A)"}, {"fold": ["A", "F", "H"], "as": ["k", "v"]}],
     "mark": {"type": "line", "strokeWidth": 3, "interpolate": "monotone"},
     "encoding": {
       "color": {"field": "k", "type": "nominal", "scale": {"domain": ["A", "F", "H"], "range": ["#1414ff", "#000000", "#ff0000"]},
         "legend": {"orient": "none", "legendX": 425, "legendY": 542, "direction": "vertical", "title": null, "symbolType": "stroke", "symbolSize": 2500, "symbolStrokeWidth": 4, "clipHeight": 35, "labelFont": "Lato", "labelFontSize": 20, "labelFontWeight": "bold", "labelOffset": 7, "rowPadding": 0, "labelExpr": "datum.value === 'A' ? 'Angry' : datum.value === 'F' ? 'Fear' : 'Happy'",
           "encode": {"symbols": {"update": {"size": {"value": 3600}}}, "labels": {"update": {"fill": {"signal": "datum.value === 'A' ? '#1414ff' : datum.value === 'F' ? '#000000' : '#ff0000'"}}}}}},
       "strokeDash": {"field": "k", "type": "nominal", "scale": {"domain": ["A", "F", "H"], "range": [[7, 3], [11, 8], [1, 0]]},
         "legend": {"orient": "none", "legendX": 425, "legendY": 542, "direction": "vertical", "title": null, "symbolType": "stroke", "symbolSize": 2500, "symbolStrokeWidth": 4, "clipHeight": 35, "labelFont": "Lato", "labelFontSize": 20, "labelFontWeight": "bold", "labelOffset": 7, "rowPadding": 0, "labelExpr": "datum.value === 'A' ? 'Angry' : datum.value === 'F' ? 'Fear' : 'Happy'",
           "encode": {"symbols": {"update": {"size": {"value": 3600}}}, "labels": {"update": {"fill": {"signal": "datum.value === 'A' ? '#1414ff' : datum.value === 'F' ? '#000000' : '#ff0000'"}}}}}}
     }}
  ]
},
"config": {"view": {"stroke": null}, "font": "Liberation Sans"}
}
